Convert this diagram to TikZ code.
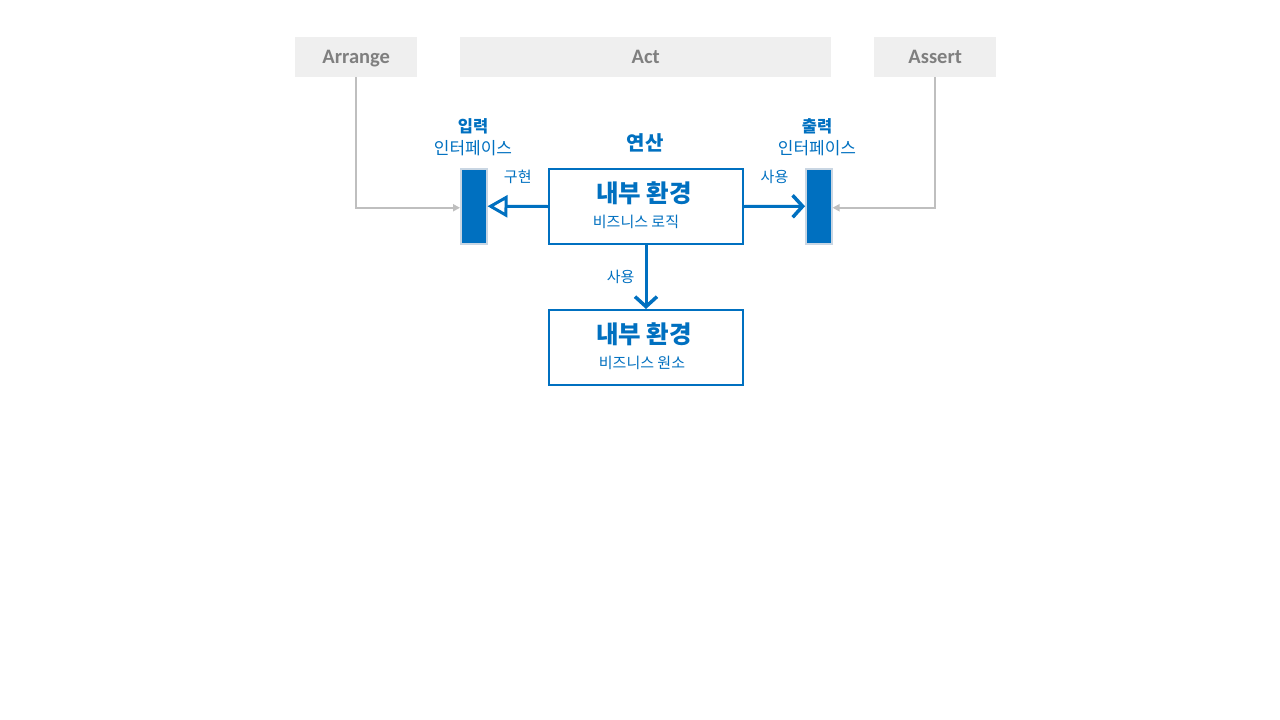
\documentclass[tikz,border=0pt]{standalone}
\usepackage{fontspec}
\setmainfont{Carlito}
\newfontfamily\kr{Noto Sans CJK KR}
\usetikzlibrary{arrows.meta,positioning}
\definecolor{mblue}{HTML}{0070C0}
\definecolor{phasefill}{HTML}{EFEFEF}
\definecolor{phasetext}{HTML}{7F7F7F}
\definecolor{feedline}{HTML}{BFBFBF}
\definecolor{portline}{HTML}{C9D6E3}

\begin{document}
\begin{tikzpicture}[x=1pt,y=-1pt,
    phase/.style={fill=phasefill,text=phasetext,font=\fontsize{20.5}{22}\selectfont\bfseries,
        minimum height=40pt,inner sep=0pt,text depth=0pt,anchor=north west},
    port/.style={fill=mblue,draw=portline,line width=1.5pt,minimum width=26pt,
        minimum height=75pt,inner sep=0pt,anchor=north west},
    envbox/.style={draw=mblue,fill=white,line width=2pt,minimum width=194pt,
        minimum height=75pt,inner sep=0pt,anchor=north west},
    bigtxt/.style={text=mblue,font=\kr\fontsize{24.5}{26}\selectfont\bfseries,inner sep=0pt},
    subtxt/.style={text=mblue,font=\kr\fontsize{15}{17}\selectfont,inner sep=0pt},
    headtxt/.style={text=mblue,font=\kr\fontsize{16.5}{18}\selectfont\bfseries,inner sep=0pt},
    porttxt/.style={text=mblue,font=\kr\fontsize{17}{19}\selectfont,inner sep=0pt},
    lbl/.style={text=mblue,font=\kr\fontsize{15}{17}\selectfont,inner sep=1pt},
    flow/.style={draw=mblue,line width=3pt},
    feed/.style={draw=feedline,line width=2pt,-{Triangle[length=7pt,width=7pt]}}]
    \useasboundingbox (0,0) rectangle (1280,720);
    % Arrange / Act / Assert
    \node[phase,minimum width=122pt] (arrange) at (295,37) {Arrange};
    \node[phase,minimum width=371pt] (act) at (460,37) {Act};
    \node[phase,minimum width=122pt] (assert) at (874,37) {Assert};
    % interfaces
    \node[port] (inport) at (460,168) {};
    \node[port] (outport) at (805,168) {};
    \node[headtxt] (inhead) at (473,126) {입력};
    \node[porttxt] (insub) at (473,148) {인터페이스};
    \node[headtxt] (outhead) at (817,126) {출력};
    \node[porttxt] (outsub) at (817,148) {인터페이스};
    % inner boxes
    \node[envbox] (logic) at (548,168) {};
    \node[bigtxt] (logictitle) at (644,193) {내부 환경};
    \node[subtxt] (logicsub) at (636,222) {비즈니스 로직};
    \node[text=mblue,font=\kr\fontsize{20}{22}\selectfont\bfseries,inner sep=0pt] (calc) at (645,143) {연산};
    \node[envbox] (domain) at (548,309) {};
    \node[bigtxt] (domaintitle) at (644,334) {내부 환경};
    \node[subtxt] (domainsub) at (642,363) {비즈니스 원소};
    % connectors
    \draw[flow,-{Triangle[open,length=20pt,width=22pt,line width=3pt]}] (logic.west) -- (inport.east)
        node[lbl,midway,above=20pt] {구현};
    \draw[flow,-{Straight Barb[length=10pt,width=22pt,line width=3.5pt]}] (logic.east) -- (outport.west)
        node[lbl,midway,above=20pt] {사용};
    \draw[flow,-{Straight Barb[length=10pt,width=22pt,line width=3.5pt]}] (logic.south) -- (domain.north)
        node[lbl,midway,left=9pt] {사용};
    \draw[feed] (arrange.south) |- ([yshift=-1.5pt]inport.west);
    \draw[feed] (assert.south) |- ([yshift=-1.5pt]outport.east);
\end{tikzpicture}
\end{document}
